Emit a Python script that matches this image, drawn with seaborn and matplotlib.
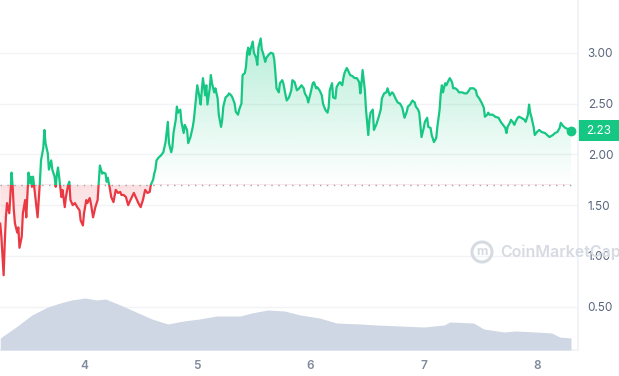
import matplotlib
matplotlib.use("Agg")
import numpy as np
import pandas as pd
import matplotlib.pyplot as plt
import seaborn as sns
from matplotlib.path import Path
from matplotlib.patches import Rectangle, Circle
from matplotlib.transforms import IdentityTransform
from matplotlib.colors import to_rgb

# price series (day of month, price)
days = [
    3.26, 3.27, 3.29, 3.30, 3.31, 3.32, 3.34, 3.35, 3.36, 3.37, 3.38, 3.39, 3.41, 3.42, 3.43, 3.45,
    3.46, 3.48, 3.49, 3.51, 3.52, 3.53, 3.54, 3.55, 3.57, 3.59, 3.61, 3.62, 3.64, 3.65, 3.66, 3.68,
    3.69, 3.71, 3.72, 3.74, 3.75, 3.76, 3.77, 3.78, 3.80, 3.81, 3.83, 3.84, 3.86, 3.87, 3.88, 3.90,
    3.92, 3.94, 3.96, 3.97, 3.99, 4.00, 4.02, 4.03, 4.05, 4.06, 4.08, 4.10, 4.12, 4.13, 4.14, 4.16,
    4.17, 4.19, 4.20, 4.21, 4.23, 4.24, 4.26, 4.28, 4.30, 4.32, 4.33, 4.35, 4.37, 4.39, 4.41, 4.44,
    4.46, 4.48, 4.50, 4.52, 4.54, 4.56, 4.58, 4.59, 4.61, 4.62, 4.63, 4.64, 4.66, 4.68, 4.70, 4.72,
    4.73, 4.74, 4.75, 4.77, 4.78, 4.79, 4.81, 4.82, 4.83, 4.85, 4.86, 4.88, 4.89, 4.91, 4.92, 4.94,
    4.96, 4.97, 4.99, 5.00, 5.02, 5.03, 5.04, 5.05, 5.07, 5.08, 5.09, 5.11, 5.12, 5.13, 5.15, 5.16,
    5.18, 5.19, 5.21, 5.22, 5.23, 5.25, 5.27, 5.28, 5.30, 5.31, 5.33, 5.34, 5.36, 5.37, 5.39, 5.40,
    5.42, 5.43, 5.44, 5.45, 5.46, 5.47, 5.49, 5.50, 5.52, 5.53, 5.54, 5.56, 5.57, 5.58, 5.60, 5.61,
    5.63, 5.65, 5.67, 5.68, 5.69, 5.70, 5.72, 5.73, 5.75, 5.76, 5.78, 5.79, 5.81, 5.83, 5.84, 5.86,
    5.88, 5.90, 5.92, 5.94, 5.95, 5.97, 5.98, 6.00, 6.02, 6.03, 6.05, 6.06, 6.08, 6.10, 6.11, 6.13,
    6.15, 6.16, 6.17, 6.19, 6.20, 6.22, 6.23, 6.25, 6.26, 6.28, 6.29, 6.30, 6.32, 6.33, 6.35, 6.37,
    6.39, 6.41, 6.43, 6.44, 6.45, 6.46, 6.48, 6.49, 6.51, 6.52, 6.53, 6.55, 6.56, 6.58, 6.60, 6.62,
    6.63, 6.65, 6.67, 6.68, 6.70, 6.72, 6.73, 6.75, 6.77, 6.79, 6.81, 6.82, 6.83, 6.85, 6.86, 6.88,
    6.90, 6.92, 6.93, 6.95, 6.96, 6.97, 6.98, 7.00, 7.01, 7.03, 7.04, 7.06, 7.07, 7.09, 7.11, 7.12,
    7.14, 7.15, 7.16, 7.17, 7.18, 7.19, 7.20, 7.22, 7.23, 7.25, 7.26, 7.28, 7.30, 7.31, 7.34, 7.36,
    7.38, 7.40, 7.41, 7.44, 7.46, 7.47, 7.49, 7.51, 7.53, 7.54, 7.56, 7.57, 7.58, 7.61, 7.63, 7.66,
    7.68, 7.70, 7.72, 7.73, 7.74, 7.76, 7.77, 7.79, 7.80, 7.81, 7.83, 7.84, 7.86, 7.89, 7.90, 7.92,
    7.93, 7.94, 7.95, 7.97, 7.98, 8.00, 8.02, 8.04, 8.07, 8.09, 8.11, 8.14, 8.16, 8.18, 8.20, 8.21,
    8.23, 8.25, 8.27, 8.28, 8.30,
]
prices = [
    1.32, 1.19, 0.81, 1.13, 1.38, 1.52, 1.42, 1.60, 1.82, 1.68, 1.45, 1.32, 1.23, 1.28, 1.08, 1.19,
    1.42, 1.55, 1.38, 1.82, 1.72, 1.78, 1.68, 1.78, 1.58, 1.38, 1.72, 1.94, 2.06, 2.24, 2.11, 2.01,
    1.85, 1.94, 1.85, 1.78, 1.68, 1.80, 1.87, 1.78, 1.58, 1.65, 1.48, 1.58, 1.70, 1.73, 1.55, 1.50,
    1.52, 1.48, 1.45, 1.35, 1.30, 1.42, 1.55, 1.52, 1.57, 1.52, 1.38, 1.48, 1.55, 1.72, 1.89, 1.81,
    1.82, 1.81, 1.73, 1.77, 1.65, 1.58, 1.53, 1.65, 1.62, 1.63, 1.60, 1.60, 1.58, 1.50, 1.55, 1.62,
    1.57, 1.52, 1.48, 1.55, 1.65, 1.62, 1.63, 1.70, 1.75, 1.81, 1.85, 1.94, 1.97, 1.99, 2.02, 2.12,
    2.22, 2.32, 2.11, 2.02, 2.07, 2.21, 2.34, 2.47, 2.41, 2.44, 2.32, 2.21, 2.29, 2.24, 2.11, 2.17,
    2.27, 2.34, 2.56, 2.68, 2.56, 2.49, 2.63, 2.75, 2.58, 2.68, 2.49, 2.65, 2.78, 2.70, 2.61, 2.65,
    2.55, 2.39, 2.27, 2.34, 2.47, 2.56, 2.58, 2.60, 2.58, 2.56, 2.50, 2.42, 2.39, 2.44, 2.50, 2.78,
    2.80, 2.86, 3.00, 3.05, 2.98, 3.03, 3.11, 3.00, 2.95, 2.88, 3.05, 3.14, 3.03, 3.00, 2.91, 2.95,
    2.98, 3.00, 2.99, 2.93, 2.80, 2.65, 2.61, 2.70, 2.73, 2.70, 2.58, 2.53, 2.56, 2.63, 2.73, 2.71,
    2.63, 2.65, 2.68, 2.65, 2.60, 2.56, 2.51, 2.60, 2.70, 2.71, 2.65, 2.66, 2.63, 2.58, 2.50, 2.44,
    2.41, 2.46, 2.63, 2.70, 2.56, 2.55, 2.66, 2.70, 2.71, 2.68, 2.75, 2.80, 2.85, 2.83, 2.78, 2.77,
    2.75, 2.75, 2.71, 2.60, 2.70, 2.83, 2.63, 2.44, 2.19, 2.34, 2.41, 2.44, 2.24, 2.29, 2.36, 2.44,
    2.55, 2.60, 2.61, 2.65, 2.58, 2.61, 2.60, 2.55, 2.51, 2.50, 2.46, 2.41, 2.36, 2.42, 2.47, 2.49,
    2.53, 2.51, 2.47, 2.44, 2.41, 2.29, 2.17, 2.26, 2.32, 2.36, 2.27, 2.26, 2.19, 2.12, 2.16, 2.27,
    2.44, 2.60, 2.68, 2.61, 2.66, 2.70, 2.68, 2.73, 2.75, 2.71, 2.65, 2.65, 2.63, 2.61, 2.61, 2.60,
    2.60, 2.63, 2.65, 2.65, 2.63, 2.58, 2.55, 2.51, 2.46, 2.37, 2.39, 2.41, 2.39, 2.39, 2.37, 2.36,
    2.32, 2.29, 2.26, 2.21, 2.27, 2.31, 2.34, 2.31, 2.29, 2.32, 2.36, 2.37, 2.36, 2.34, 2.32, 2.39,
    2.49, 2.41, 2.37, 2.27, 2.19, 2.22, 2.24, 2.22, 2.21, 2.19, 2.17, 2.19, 2.21, 2.22, 2.26, 2.31,
    2.28, 2.26, 2.25, 2.24, 2.23,
]
open_price = 1.70

# volume profile (arbitrary units)
vol_days = [3.26, 3.40, 3.54, 3.68, 3.79, 3.89, 4.01, 4.11, 4.19, 4.32, 4.46, 4.60, 4.74, 4.88,
            5.02, 5.17, 5.38, 5.48, 5.62, 5.77, 5.91, 6.08, 6.23, 6.44, 6.58, 6.79, 7.00, 7.18,
            7.23, 7.44, 7.53, 7.71, 7.81, 7.99, 8.13, 8.20, 8.30]
volume = [12, 23, 35, 43, 47, 50, 52, 50, 51, 45, 38, 31, 26, 29, 31, 34, 34, 37, 40, 39, 35,
          32, 27, 26, 25, 24, 23, 25, 28, 27, 21, 18, 19, 18, 17, 13, 12]

y_ticks = [0.5, 1.0, 1.5, 2.0, 2.5, 3.0]
x_ticks = [4, 5, 6, 7, 8]
x_labels = ["4", "5", "6", "7", "8"]

GREEN = "#16c784"
RED = "#ea3943"
VOL = "#cfd6e4"
GRID = "#f1f3f6"
LABEL = "#58667e"

sns.set_theme(style="white")
plt.rcParams["font.family"] = ["Inter", "DejaVu Sans"]

fig = plt.figure(figsize=(6.19, 3.76), dpi=100)
rect = [0, 26 / 376, 578 / 619, 350 / 376]
ax = fig.add_axes(rect)

xlim = (3.258, 8.362)
ylim = (0.074, 3.519)
df = pd.DataFrame({"day": days, "price": prices})

# gradient fills between the line and the opening price
fill = ax.fill_between(df["day"], df["price"], open_price, facecolor="none", edgecolor="none")
clip = Path.make_compound_path(*fill.get_paths())

grad_up = np.zeros((256, 1, 4))
grad_up[..., :3] = to_rgb(GREEN)
grad_up[:, 0, 3] = np.linspace(0.0, 0.3, 256)
im_up = ax.imshow(grad_up, extent=[xlim[0], xlim[1], open_price, max(prices)],
                  origin="lower", aspect="auto", zorder=1)
im_up.set_clip_path(clip, ax.transData)

grad_dn = np.zeros((256, 1, 4))
grad_dn[..., :3] = to_rgb(RED)
grad_dn[:, 0, 3] = np.linspace(0.0, 0.16, 256)
im_dn = ax.imshow(grad_dn, extent=[xlim[0], xlim[1], min(prices), open_price],
                  origin="lower", aspect="auto", zorder=1)
im_dn.set_clip_path(clip, ax.transData)

# price line, green above the open and red below it
sns.lineplot(data=df, x="day", y="price", estimator=None, color=GREEN, lw=1.6, ax=ax, zorder=3)
ax.lines[-1].set_clip_path(Rectangle((xlim[0], open_price), xlim[1] - xlim[0], 10,
                                     transform=ax.transData))
sns.lineplot(data=df, x="day", y="price", estimator=None, color=RED, lw=1.6, ax=ax, zorder=3)
ax.lines[-1].set_clip_path(Rectangle((xlim[0], -10), xlim[1] - xlim[0], open_price + 10,
                                     transform=ax.transData))

ax.hlines(open_price, days[0], days[-1], colors="#9aa3b2", linestyles=(0, (1, 4)), lw=1, zorder=2)
ax.scatter([days[-1]], [prices[-1]], s=50, color=GREEN, zorder=5, linewidths=0)

# current price tag
ax.add_patch(Rectangle((1.0, prices[-1] - 0.103), 41 / 578, 0.206, transform=ax.get_yaxis_transform(),
                       clip_on=False, color=GREEN, lw=0))
ax.text(1.0 + 20.5 / 578, prices[-1], f"{prices[-1]:.2f}", transform=ax.get_yaxis_transform(),
        ha="center", va="center", color="white", fontsize=8.5)

ax.set_xlim(*xlim)
ax.set_ylim(*ylim)
ax.set_xticks(x_ticks)
ax.set_xticklabels(x_labels, fontweight="semibold")
ax.set_yticks(y_ticks)
ax.set_yticklabels([f"{v:.2f}" for v in y_ticks])
ax.yaxis.tick_right()
ax.tick_params(axis="y", length=0, pad=7, labelsize=8.5, labelcolor=LABEL)
ax.tick_params(axis="x", length=0, pad=7, labelsize=8.5, labelcolor="#808a9d")
ax.set_xlabel("")
ax.set_ylabel("")
ax.grid(axis="y", color=GRID, lw=1)
ax.set_axisbelow(True)
for side in ["top", "left"]:
    ax.spines[side].set_visible(False)
ax.spines["right"].set_color("#eff2f5")
ax.spines["bottom"].set_color("#f1f3f6")

# volume on its own scale, drawn over the grid
axv = fig.add_axes(rect)
axv.patch.set_visible(False)
axv.fill_between(vol_days, volume, color=VOL, lw=0)
axv.set_xlim(*xlim)
axv.set_ylim(0, 350)
axv.axis("off")

# watermark
fig.add_artist(Circle((482, 124), 10, transform=IdentityTransform(), fill=False,
                      ec="#d6dbe2", lw=2.2))
fig.text(482 / 619, 124 / 376, "m", ha="center", va="center", color="#d6dbe2",
         fontsize=9, fontweight="bold")
fig.text(500 / 619, 124 / 376, "CoinMarketCap", ha="left", va="center", color="#d6dbe2",
         fontsize=11.5, fontweight="semibold", zorder=0)

fig.savefig("out.png", dpi=100)
